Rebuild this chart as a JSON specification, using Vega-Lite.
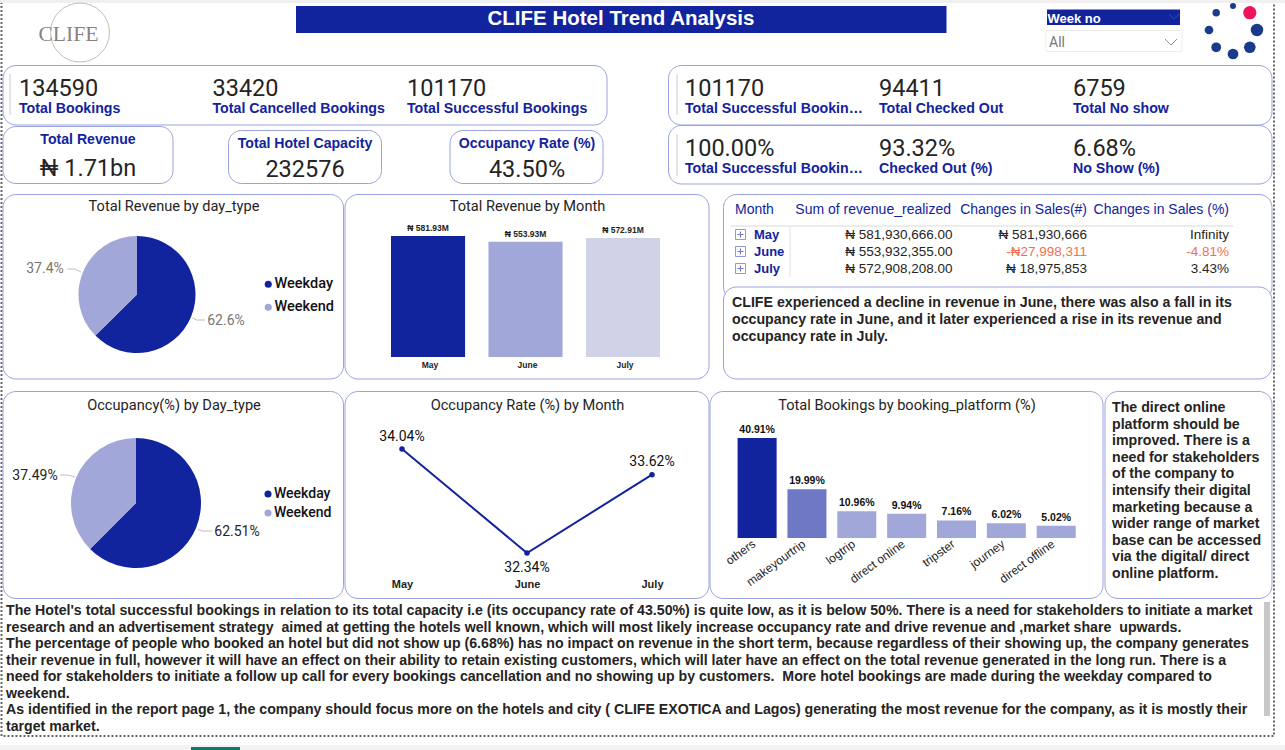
{
"$schema":"https://vega.github.io/schema/vega-lite/v6.json",
"width":1285,"height":750,"padding":0,
"autosize":{"type":"fit","contains":"padding"},
"background":"white",
"config":{"view":{"stroke":null},"text":{"font":"Liberation Sans","dy":1},"axis":{"grid":false}},
"datasets":{
"frame":[{"frame":1}],
"brand":[{"brand":"CLIFE","heading":"CLIFE Hotel Trend Analysis","slicer":"Week no","choice":"All"}],
"spinner":[
{"rank":8,"e":0.7,"n":0.72,"kind":"head"},{"rank":1,"e":0,"n":1,"kind":"tail"},{"rank":2,"e":-0.7,"n":0.72,"kind":"tail"},{"rank":3,"e":-1,"n":0,"kind":"tail"},{"rank":4,"e":-0.7,"n":-0.72,"kind":"tail"},{"rank":5,"e":0,"n":-1,"kind":"tail"},{"rank":6,"e":0.7,"n":-0.72,"kind":"tail"},{"rank":7,"e":1,"n":0,"kind":"tail"}],
"kpi":[
{"col":1,"row":1,"value":"134590","label":"Total Bookings"},
{"col":2,"row":1,"value":"33420","label":"Total Cancelled Bookings"},
{"col":3,"row":1,"value":"101170","label":"Total Successful Bookings"},
{"col":4,"row":1,"value":"101170","label":"Total Successful Bookin…"},
{"col":5,"row":1,"value":"94411","label":"Total Checked Out"},
{"col":6,"row":1,"value":"6759","label":"Total No show"},
{"col":4,"row":2,"value":"100.00%","label":"Total Successful Bookin…"},
{"col":5,"row":2,"value":"93.32%","label":"Checked Out (%)"},
{"col":6,"row":2,"value":"6.68%","label":"No Show (%)"}],
"center":[
{"col":1,"value":"₦ 1.71bn","label":"Total Revenue"},
{"col":2,"value":"232576","label":"Total Hotel Capacity"},
{"col":3,"value":"43.50%","label":"Occupancy Rate (%)"}],
"titles":[
{"col":1,"row":1,"title":"Total Revenue by day_type"},
{"col":2,"row":1,"title":"Total Revenue by Month"},
{"col":1,"row":2,"title":"Occupancy(%) by Day_type"},
{"col":2,"row":2,"title":"Occupancy Rate (%) by Month"},
{"col":3,"row":2,"title":"Total Bookings by booking_platform (%)"}],
"revenueDay":[{"day":"Weekday","share":62.6,"label":"62.6%"},{"day":"Weekend","share":37.4,"label":"37.4%"}],
"occupancyDay":[{"day":"Weekday","share":62.51,"label":"62.51%"},{"day":"Weekend","share":37.49,"label":"37.49%"}],
"revenueMonth":[{"month":"May","revenue":581.93,"label":"₦ 581.93M"},{"month":"June","revenue":553.93,"label":"₦ 553.93M"},{"month":"July","revenue":572.91,"label":"₦ 572.91M"}],
"occupancyMonth":[{"month":"May","rate":34.04,"label":"34.04%"},{"month":"June","rate":32.34,"label":"32.34%"},{"month":"July","rate":33.62,"label":"33.62%"}],
"platform":[
{"platform":"others","share":40.91,"label":"40.91%"},
{"platform":"makeyourtrip","share":19.99,"label":"19.99%"},
{"platform":"logtrip","share":10.96,"label":"10.96%"},
{"platform":"direct online","share":9.94,"label":"9.94%"},
{"platform":"tripster","share":7.16,"label":"7.16%"},
{"platform":"journey","share":6.02,"label":"6.02%"},
{"platform":"direct offline","share":5.02,"label":"5.02%"}],
"tableHead":[
{"col":0,"row":0,"text":"Month","kind":"left"},
{"col":4,"row":0,"text":"Sum of revenue_realized","kind":"right"},
{"col":5,"row":0,"text":"Changes in Sales(#)","kind":"right"},
{"col":6,"row":0,"text":"Changes in Sales (%)","kind":"right"}],
"tableMonths":[{"col":2,"row":1,"text":"May"},{"col":2,"row":2,"text":"June"},{"col":2,"row":3,"text":"July"}],
"tableCells":[
{"col":4,"row":1,"text":"₦ 581,930,666.00","tone":"flat"},
{"col":5,"row":1,"text":"₦ 581,930,666","tone":"flat"},
{"col":6,"row":1,"text":"Infinity","tone":"flat"},
{"col":4,"row":2,"text":"₦ 553,932,355.00","tone":"flat"},
{"col":5,"row":2,"text":"-₦27,998,311","tone":"down"},
{"col":6,"row":2,"text":"-4.81%","tone":"down"},
{"col":4,"row":3,"text":"₦ 572,908,208.00","tone":"flat"},
{"col":5,"row":3,"text":"₦ 18,975,853","tone":"flat"},
{"col":6,"row":3,"text":"3.43%","tone":"flat"}],
"noteRevenue":[
{"line":1,"text":"CLIFE experienced a decline in revenue in June, there was also a fall in its"},
{"line":2,"text":"occupancy rate in June, and it later experienced a rise in its revenue and"},
{"line":3,"text":"occupancy rate in July."}],
"notePlatform":[
{"line":1,"text":"The direct online"},{"line":2,"text":"platform should be"},{"line":3,"text":"improved. There is a"},{"line":4,"text":"need for stakeholders"},{"line":5,"text":"of the company to"},{"line":6,"text":"intensify their digital"},{"line":7,"text":"marketing because a"},{"line":8,"text":"wider range of market"},{"line":9,"text":"base can be accessed"},{"line":10,"text":"via the digital/ direct"},{"line":11,"text":"online platform."}],
"noteBottom":[
{"line":1,"text":"The Hotel's total successful bookings in relation to its total capacity i.e (its occupancy rate of 43.50%) is quite low, as it is below 50%. There is a need for stakeholders to initiate a market"},
{"line":2,"text":"research and an advertisement strategy \u00a0aimed at getting the hotels well known, which will most likely increase occupancy rate and drive revenue and ,market share \u00a0upwards."},
{"line":3,"text":"The percentage of people who booked an hotel but did not show up (6.68%) has no impact on revenue in the short term, because regardless of their showing up, the company generates"},
{"line":4,"text":"their revenue in full, however it will have an effect on their ability to retain existing customers, which will later have an effect on the total revenue generated in the long run. There is a"},
{"line":5,"text":"need for stakeholders to initiate a follow up call for every bookings cancellation and no showing up by customers. \u00a0More hotel bookings are made during the weekday compared to"},
{"line":6,"text":"weekend."},
{"line":7,"text":"As identified in the report page 1, the company should focus more on the hotels and city ( CLIFE EXOTICA and Lagos) generating the most revenue for the company, as it is mostly their"},
{"line":8,"text":"target market."}]
},
"resolve":{"scale":{"x":"independent","y":"independent","color":"independent","theta":"independent","shape":"independent","size":"independent"}},
"layer":[
{"data":{"name":"frame"},"mark":{"type":"rect","fill":"#f3f2f1"},"encoding":{"x":{"datum":0,"type":"quantitative","scale":{"domain":[0,1],"range":[0,1285]},"axis":null},"x2":{"datum":1},"y":{"datum":0,"type":"quantitative","scale":{"domain":[0,1],"range":[745,750]},"axis":null},"y2":{"datum":1}}},
{"data":{"name":"frame"},"mark":{"type":"rect","fill":"#117865"},"encoding":{"x":{"datum":0,"type":"quantitative","scale":{"domain":[0,1],"range":[191,240]},"axis":null},"x2":{"datum":1},"y":{"datum":0,"type":"quantitative","scale":{"domain":[0,1],"range":[747,750]},"axis":null},"y2":{"datum":1}}},
{"data":{"name":"frame"},"mark":{"type":"rect","fill":"transparent","stroke":"#666666","strokeWidth":2,"strokeDash":[2,2]},"encoding":{"x":{"datum":0,"type":"quantitative","scale":{"domain":[0,1],"range":[1.5,1274]},"axis":null},"x2":{"datum":1},"y":{"datum":0,"type":"quantitative","scale":{"domain":[0,1],"range":[1,736]},"axis":null},"y2":{"datum":1}}},
{"data":{"name":"frame"},"mark":{"type":"rect","fill":"#f0f0f0"},"encoding":{"x":{"datum":0,"type":"quantitative","scale":{"domain":[0,1],"range":[0,1285]},"axis":null},"x2":{"datum":1},"y":{"datum":0,"type":"quantitative","scale":{"domain":[0,1],"range":[0,3]},"axis":null},"y2":{"datum":1}}},

{"data":{"name":"brand"},"mark":{"type":"point","shape":"circle","filled":false,"stroke":"#a8a2a0","strokeWidth":1,"size":3481},"encoding":{"x":{"datum":0,"type":"quantitative","scale":{"domain":[0,1],"range":[80,81]},"axis":null},"y":{"datum":0,"type":"quantitative","scale":{"domain":[0,1],"range":[32.5,33]},"axis":null}}},
{"data":{"name":"brand"},"mark":{"type":"text","font":"Liberation Serif","fontSize":21.7,"fill":"#8a8280"},"encoding":{"text":{"field":"brand"},"x":{"datum":0,"type":"quantitative","scale":{"domain":[0,1],"range":[68.5,69]},"axis":null},"y":{"datum":0,"type":"quantitative","scale":{"domain":[0,1],"range":[32.5,33]},"axis":null}}},
{"data":{"name":"brand"},"mark":{"type":"rect","fill":"#12239e"},"encoding":{"x":{"datum":0,"type":"quantitative","scale":{"domain":[0,1],"range":[296,946.5]},"axis":null},"x2":{"datum":1},"y":{"datum":0,"type":"quantitative","scale":{"domain":[0,1],"range":[6,33]},"axis":null},"y2":{"datum":1}}},
{"data":{"name":"brand"},"mark":{"type":"text","fontSize":20.5,"fontWeight":"bold","fill":"white"},"encoding":{"text":{"field":"heading"},"x":{"datum":0,"type":"quantitative","scale":{"domain":[0,1],"range":[621,622]},"axis":null},"y":{"datum":0,"type":"quantitative","scale":{"domain":[0,1],"range":[18,19]},"axis":null}}},
{"data":{"name":"brand"},"mark":{"type":"rect","fill":"#12239e"},"encoding":{"x":{"datum":0,"type":"quantitative","scale":{"domain":[0,1],"range":[1047,1180]},"axis":null},"x2":{"datum":1},"y":{"datum":0,"type":"quantitative","scale":{"domain":[0,1],"range":[9.5,25]},"axis":null},"y2":{"datum":1}}},
{"data":{"name":"brand"},"mark":{"type":"text","align":"left","fontSize":13,"fontWeight":"bold","fill":"white"},"encoding":{"text":{"field":"slicer"},"x":{"datum":0,"type":"quantitative","scale":{"domain":[0,1],"range":[1047.5,1048]},"axis":null},"y":{"datum":0,"type":"quantitative","scale":{"domain":[0,1],"range":[17.5,18]},"axis":null}}},
{"data":{"name":"brand"},"mark":{"type":"rect","fill":"white","stroke":"#eeeeee"},"encoding":{"x":{"datum":0,"type":"quantitative","scale":{"domain":[0,1],"range":[1046,1182]},"axis":null},"x2":{"datum":1},"y":{"datum":0,"type":"quantitative","scale":{"domain":[0,1],"range":[30.5,51.5]},"axis":null},"y2":{"datum":1}}},
{"data":{"name":"brand"},"mark":{"type":"text","align":"left","fontSize":14,"fill":"#777777","font":"Roboto"},"encoding":{"text":{"field":"choice"},"x":{"datum":0,"type":"quantitative","scale":{"domain":[0,1],"range":[1049,1050]},"axis":null},"y":{"datum":0,"type":"quantitative","scale":{"domain":[0,1],"range":[41.5,42]},"axis":null}}},
{"data":{"name":"brand"},"mark":{"type":"point","shape":"M-1,-0.5L0,0.5L1,-0.5","filled":false,"stroke":"#666666","strokeWidth":1,"size":144},"encoding":{"x":{"datum":0,"type":"quantitative","scale":{"domain":[0,1],"range":[1171,1172]},"axis":null},"y":{"datum":0,"type":"quantitative","scale":{"domain":[0,1],"range":[42,43]},"axis":null}}},
{"data":{"name":"brand"},"mark":{"type":"point","shape":"M-1,-0.5L0,0.5L1,-0.5","filled":false,"stroke":"#4656b8","strokeWidth":1,"size":100},"encoding":{"x":{"datum":0,"type":"quantitative","scale":{"domain":[0,1],"range":[1174,1175]},"axis":null},"y":{"datum":0,"type":"quantitative","scale":{"domain":[0,1],"range":[16.5,17]},"axis":null}}},
{"data":{"name":"spinner"},"mark":{"type":"point","shape":"circle","filled":true,"opacity":1},"encoding":{
"x":{"field":"e","type":"quantitative","scale":{"domain":[-1,1],"range":[1209,1257]},"axis":null},
"y":{"field":"n","type":"quantitative","scale":{"domain":[-1,1],"range":[54,6]},"axis":null},
"size":{"field":"rank","type":"quantitative","scale":{"domain":[1,8],"range":[36,175]},"legend":null},
"color":{"field":"kind","type":"nominal","scale":{"domain":["head","tail"],"range":["#f0145a","#1a3a8c"]},"legend":null}}},

{"data":{"name":"frame"},"mark":{"type":"rect","cornerRadius":13,"fill":"transparent","stroke":"#9aa3de"},"encoding":{"x":{"datum":0,"type":"quantitative","scale":{"domain":[0,1],"range":[3,607]},"axis":null},"x2":{"datum":1},"y":{"datum":0,"type":"quantitative","scale":{"domain":[0,1],"range":[65.5,125]},"axis":null},"y2":{"datum":1}}},
{"data":{"name":"frame"},"mark":{"type":"rect","cornerRadius":13,"fill":"transparent","stroke":"#9aa3de"},"encoding":{"x":{"datum":0,"type":"quantitative","scale":{"domain":[0,1],"range":[3,173]},"axis":null},"x2":{"datum":1},"y":{"datum":0,"type":"quantitative","scale":{"domain":[0,1],"range":[126.5,183.5]},"axis":null},"y2":{"datum":1}}},
{"data":{"name":"frame"},"mark":{"type":"rect","cornerRadius":13,"fill":"transparent","stroke":"#9aa3de"},"encoding":{"x":{"datum":0,"type":"quantitative","scale":{"domain":[0,1],"range":[228.5,381.5]},"axis":null},"x2":{"datum":1},"y":{"datum":0,"type":"quantitative","scale":{"domain":[0,1],"range":[130.5,183.5]},"axis":null},"y2":{"datum":1}}},
{"data":{"name":"frame"},"mark":{"type":"rect","cornerRadius":13,"fill":"transparent","stroke":"#9aa3de"},"encoding":{"x":{"datum":0,"type":"quantitative","scale":{"domain":[0,1],"range":[450,603]},"axis":null},"x2":{"datum":1},"y":{"datum":0,"type":"quantitative","scale":{"domain":[0,1],"range":[130.5,183.5]},"axis":null},"y2":{"datum":1}}},
{"data":{"name":"frame"},"mark":{"type":"rect","cornerRadius":13,"fill":"transparent","stroke":"#9aa3de"},"encoding":{"x":{"datum":0,"type":"quantitative","scale":{"domain":[0,1],"range":[668.5,1272]},"axis":null},"x2":{"datum":1},"y":{"datum":0,"type":"quantitative","scale":{"domain":[0,1],"range":[65.5,125]},"axis":null},"y2":{"datum":1}}},
{"data":{"name":"frame"},"mark":{"type":"rect","cornerRadius":13,"fill":"transparent","stroke":"#9aa3de"},"encoding":{"x":{"datum":0,"type":"quantitative","scale":{"domain":[0,1],"range":[668.5,1272]},"axis":null},"x2":{"datum":1},"y":{"datum":0,"type":"quantitative","scale":{"domain":[0,1],"range":[125.5,184]},"axis":null},"y2":{"datum":1}}},
{"data":{"name":"frame"},"mark":{"type":"rect","cornerRadius":13,"fill":"transparent","stroke":"#9aa3de"},"encoding":{"x":{"datum":0,"type":"quantitative","scale":{"domain":[0,1],"range":[3,343.5]},"axis":null},"x2":{"datum":1},"y":{"datum":0,"type":"quantitative","scale":{"domain":[0,1],"range":[194.5,379]},"axis":null},"y2":{"datum":1}}},
{"data":{"name":"frame"},"mark":{"type":"rect","cornerRadius":13,"fill":"transparent","stroke":"#9aa3de"},"encoding":{"x":{"datum":0,"type":"quantitative","scale":{"domain":[0,1],"range":[345,709]},"axis":null},"x2":{"datum":1},"y":{"datum":0,"type":"quantitative","scale":{"domain":[0,1],"range":[194.5,379]},"axis":null},"y2":{"datum":1}}},
{"data":{"name":"frame"},"mark":{"type":"rect","cornerRadius":13,"fill":"transparent","stroke":"#9aa3de"},"encoding":{"x":{"datum":0,"type":"quantitative","scale":{"domain":[0,1],"range":[723.5,1272]},"axis":null},"x2":{"datum":1},"y":{"datum":0,"type":"quantitative","scale":{"domain":[0,1],"range":[194.5,300]},"axis":null},"y2":{"datum":1}}},
{"data":{"name":"frame"},"mark":{"type":"rect","cornerRadius":13,"fill":"white","stroke":"#9aa3de"},"encoding":{"x":{"datum":0,"type":"quantitative","scale":{"domain":[0,1],"range":[723.5,1272]},"axis":null},"x2":{"datum":1},"y":{"datum":0,"type":"quantitative","scale":{"domain":[0,1],"range":[287,379]},"axis":null},"y2":{"datum":1}}},
{"data":{"name":"frame"},"mark":{"type":"rect","cornerRadius":13,"fill":"transparent","stroke":"#9aa3de"},"encoding":{"x":{"datum":0,"type":"quantitative","scale":{"domain":[0,1],"range":[3,343.5]},"axis":null},"x2":{"datum":1},"y":{"datum":0,"type":"quantitative","scale":{"domain":[0,1],"range":[391.5,598.5]},"axis":null},"y2":{"datum":1}}},
{"data":{"name":"frame"},"mark":{"type":"rect","cornerRadius":13,"fill":"transparent","stroke":"#9aa3de"},"encoding":{"x":{"datum":0,"type":"quantitative","scale":{"domain":[0,1],"range":[345,709]},"axis":null},"x2":{"datum":1},"y":{"datum":0,"type":"quantitative","scale":{"domain":[0,1],"range":[391.5,598.5]},"axis":null},"y2":{"datum":1}}},
{"data":{"name":"frame"},"mark":{"type":"rect","cornerRadius":13,"fill":"transparent","stroke":"#9aa3de"},"encoding":{"x":{"datum":0,"type":"quantitative","scale":{"domain":[0,1],"range":[710,1103]},"axis":null},"x2":{"datum":1},"y":{"datum":0,"type":"quantitative","scale":{"domain":[0,1],"range":[391.5,598.5]},"axis":null},"y2":{"datum":1}}},
{"data":{"name":"frame"},"mark":{"type":"rect","cornerRadius":13,"fill":"transparent","stroke":"#9aa3de"},"encoding":{"x":{"datum":0,"type":"quantitative","scale":{"domain":[0,1],"range":[1105,1272]},"axis":null},"x2":{"datum":1},"y":{"datum":0,"type":"quantitative","scale":{"domain":[0,1],"range":[391.5,598.5]},"axis":null},"y2":{"datum":1}}},

{"data":{"name":"frame"},"mark":{"type":"rule","stroke":"#cccccc","strokeWidth":1},"encoding":{"x":{"datum":0,"type":"quantitative","scale":{"domain":[0,1],"range":[10,11]},"axis":null},"y":{"datum":0,"type":"quantitative","scale":{"domain":[0,1],"range":[74,115]},"axis":null},"y2":{"datum":1}}},
{"data":{"name":"frame"},"mark":{"type":"rule","stroke":"#cccccc","strokeWidth":1},"encoding":{"x":{"datum":0,"type":"quantitative","scale":{"domain":[0,1],"range":[677,678]},"axis":null},"y":{"datum":0,"type":"quantitative","scale":{"domain":[0,1],"range":[74,115]},"axis":null},"y2":{"datum":1}}},
{"data":{"name":"frame"},"mark":{"type":"rule","stroke":"#cccccc","strokeWidth":1},"encoding":{"x":{"datum":0,"type":"quantitative","scale":{"domain":[0,1],"range":[677,678]},"axis":null},"y":{"datum":0,"type":"quantitative","scale":{"domain":[0,1],"range":[134,176]},"axis":null},"y2":{"datum":1}}},

{"data":{"name":"kpi"},"mark":{"type":"text","align":"left","font":"Roboto","fontSize":23.5,"fill":"#252423"},"encoding":{"text":{"field":"value"},
"x":{"field":"col","type":"quantitative","scale":{"domain":[1,2,3,4,5,6],"range":[19,212.5,407,685,879,1073]},"axis":null},
"y":{"field":"row","type":"quantitative","scale":{"domain":[1,2],"range":[88,148]},"axis":null}}},
{"data":{"name":"kpi"},"mark":{"type":"text","align":"left","fontSize":14.2,"fontWeight":"bold","fill":"#12239e"},"encoding":{"text":{"field":"label"},
"x":{"field":"col","type":"quantitative","scale":{"domain":[1,2,3,4,5,6],"range":[19,212.5,407,685,879,1073]},"axis":null},
"y":{"field":"row","type":"quantitative","scale":{"domain":[1,2],"range":[108,168]},"axis":null}}},
{"data":{"name":"center"},"mark":{"type":"text","font":"Roboto","fontSize":23.5,"fill":"#252423"},"encoding":{"text":{"field":"value"},
"x":{"field":"col","type":"quantitative","scale":{"domain":[1,2,3],"range":[88,305,527]},"axis":null},
"y":{"field":"col","type":"quantitative","scale":{"domain":[1,2,3],"range":[168,169,169]},"axis":null}}},
{"data":{"name":"center"},"mark":{"type":"text","fontSize":14.1,"fontWeight":"bold","fill":"#12239e"},"encoding":{"text":{"field":"label"},
"x":{"field":"col","type":"quantitative","scale":{"domain":[1,2,3],"range":[88,305,527]},"axis":null},
"y":{"field":"col","type":"quantitative","scale":{"domain":[1,2,3],"range":[139,143,143]},"axis":null}}},
{"data":{"name":"titles"},"mark":{"type":"text","fontSize":14.6,"font":"Roboto","fill":"#252423"},"encoding":{"text":{"field":"title"},
"x":{"field":"col","type":"quantitative","scale":{"domain":[1,2,3],"range":[174,527.5,907]},"axis":null},
"y":{"field":"row","type":"quantitative","scale":{"domain":[1,2],"range":[206,405]},"axis":null}}},

{"data":{"name":"revenueDay"},"encoding":{
"x":{"datum":0,"type":"quantitative","scale":{"domain":[0,1],"range":[137,138]},"axis":null},
"y":{"datum":0,"type":"quantitative","scale":{"domain":[0,1],"range":[294.5,295]},"axis":null}},
"layer":[{"mark":{"type":"arc","outerRadius":58.5},"encoding":{
"theta":{"field":"share","type":"quantitative","stack":true,"scale":{"domain":[0,100]}},
"color":{"field":"day","type":"nominal","scale":{"domain":["Weekday","Weekend"],"range":["#12239e","#a1a8d9"]},
"legend":{"orient":"none","legendX":261,"legendY":277,"title":null,"symbolType":"circle","symbolSize":50,"labelFont":"Roboto","labelFontSize":14.5,"labelFontWeight":500,"labelColor":"#111111","rowPadding":8,"labelOffset":-1}}}}]},
{"data":{"name":"occupancyDay"},"encoding":{
"x":{"datum":0,"type":"quantitative","scale":{"domain":[0,1],"range":[136,137]},"axis":null},
"y":{"datum":0,"type":"quantitative","scale":{"domain":[0,1],"range":[503,504]},"axis":null}},
"layer":[{"mark":{"type":"arc","outerRadius":65},"encoding":{
"theta":{"field":"share","type":"quantitative","stack":true,"scale":{"domain":[0,100]}},
"color":{"field":"day","type":"nominal","scale":{"domain":["Weekday","Weekend"],"range":["#12239e","#a1a8d9"]},
"legend":{"orient":"none","legendX":261,"legendY":487,"title":null,"symbolType":"circle","symbolSize":50,"labelFont":"Roboto","labelFontSize":14,"labelFontWeight":500,"labelColor":"#111111","rowPadding":5,"labelOffset":-1}}}}]},
{"data":{"name":"revenueDay"},"mark":{"type":"text","font":"Roboto","fontSize":14,"fill":"#7a7672"},"encoding":{"text":{"field":"label"},
"x":{"field":"share","type":"quantitative","scale":{"domain":[37.4,62.6],"range":[45,226]},"axis":null},
"y":{"field":"share","type":"quantitative","scale":{"domain":[37.4,62.6],"range":[268,320]},"axis":null}}},
{"data":{"name":"occupancyDay"},"mark":{"type":"text","font":"Roboto","fontSize":14,"fill":"#252423"},"encoding":{"text":{"field":"label"},
"x":{"field":"share","type":"quantitative","scale":{"domain":[37.49,62.51],"range":[35,237]},"axis":null},
"y":{"field":"share","type":"quantitative","scale":{"domain":[37.49,62.51],"range":[475,531]},"axis":null}}},
{"data":{"name":"revenueDay"},"mark":{"type":"point","filled":false,"strokeWidth":1,"size":4,"opacity":1,"stroke":"#bdbdbd"},"encoding":{
"x":{"field":"share","type":"quantitative","scale":{"domain":[37.4,62.6],"range":[74.5,198.5]},"axis":null},
"y":{"field":"share","type":"quantitative","scale":{"domain":[37.4,62.6],"range":[270.5,319.5]},"axis":null},
"shape":{"field":"day","type":"nominal","scale":{"domain":["Weekday","Weekend"],"range":["M-6,-1.5L-2,0.5H6.5","M-7,-1.5H0L6.5,1.5"]},"legend":null}}},
{"data":{"name":"occupancyDay"},"mark":{"type":"point","filled":false,"strokeWidth":1,"size":4,"opacity":1,"stroke":"#bdbdbd"},"encoding":{
"x":{"field":"share","type":"quantitative","scale":{"domain":[37.49,62.51],"range":[67.5,205]},"axis":null},
"y":{"field":"share","type":"quantitative","scale":{"domain":[37.49,62.51],"range":[476,530]},"axis":null},
"shape":{"field":"day","type":"nominal","scale":{"domain":["Weekday","Weekend"],"range":["M-7,-1L-3,1H7","M-7.5,-1H0L7.5,1"]},"legend":null}}},

{"data":{"name":"revenueMonth"},"encoding":{
"x":{"field":"month","type":"nominal","sort":["May","June","July"],"scale":{"range":[391,660],"paddingInner":0.24,"paddingOuter":0},
"axis":{"orient":"bottom","offset":-390,"title":null,"ticks":false,"domain":false,"labelPadding":0,"labelAngle":0,"labelOffset":2,"labelFont":"Liberation Sans","labelFontSize":8.5,"labelFontWeight":"bold","labelColor":"#252423"}},
"y":{"field":"revenue","type":"quantitative","scale":{"domain":[0,581.93],"range":[357,236]},"axis":null}},
"layer":[
{"mark":{"type":"bar"},"encoding":{"color":{"field":"month","type":"nominal","scale":{"domain":["May","June","July"],"range":["#12239e","#a1a8d9","#d0d3e8"]},"legend":null}}},
{"mark":{"type":"text","baseline":"bottom","dy":-3,"fontSize":8.5,"fontWeight":"bold","fill":"#252423"},"encoding":{"text":{"field":"label"}}}]},

{"data":{"name":"occupancyMonth"},"encoding":{
"x":{"field":"month","type":"nominal","sort":["May","June","July"],"scale":{"type":"point","range":[402,652],"padding":0},
"axis":{"orient":"bottom","offset":-172,"title":null,"ticks":false,"domain":false,"labelPadding":0,"labelAngle":0,"labelFont":"Liberation Sans","labelFontSize":11,"labelFontWeight":"bold","labelColor":"#252423"}},
"y":{"field":"rate","type":"quantitative","scale":{"domain":[32.34,34.04],"range":[553,449]},"axis":null}},
"layer":[
{"mark":{"type":"line","color":"#12239e","strokeWidth":2}},
{"mark":{"type":"point","filled":true,"size":30,"opacity":1,"color":"#12239e"}}]},
{"data":{"name":"occupancyMonth"},"mark":{"type":"text","font":"Roboto","fontSize":14,"fill":"#111111"},"encoding":{"text":{"field":"label"},
"x":{"field":"month","type":"nominal","sort":["May","June","July"],"scale":{"type":"point","range":[402,652],"padding":0},"axis":null},
"y":{"field":"rate","type":"quantitative","scale":{"domain":[32.34,33.62,34.04],"range":[567,461,436]},"axis":null}}},

{"data":{"name":"platform"},"encoding":{
"x":{"field":"platform","type":"nominal","sort":null,"scale":{"range":[737.6,1075.7],"paddingInner":0.217,"paddingOuter":0},
"axis":{"orient":"bottom","offset":-212,"title":null,"ticks":false,"domain":false,"labelPadding":4,"labelAngle":-36,"labelAlign":"right","labelBaseline":"middle","labelOffset":-3,"labelFont":"Liberation Sans","labelFontSize":12,"labelColor":"#252423","labelOverlap":false}},
"y":{"field":"share","type":"quantitative","scale":{"domain":[0,40.91],"range":[538,438]},"axis":null}},
"layer":[
{"mark":{"type":"bar"},"encoding":{"color":{"field":"platform","type":"nominal","sort":null,"scale":{"domain":["others","makeyourtrip","logtrip","direct online","tripster","journey","direct offline"],"range":["#12239e","#6f78c4","#a1a8d9","#a1a8d9","#a1a8d9","#a1a8d9","#a1a8d9"]},"legend":null}}},
{"mark":{"type":"text","baseline":"bottom","dy":-3,"fontSize":10.5,"fontWeight":"bold","fill":"#111111"},"encoding":{"text":{"field":"label"}}}]},

{"data":{"name":"frame"},"mark":{"type":"rule","stroke":"#d9d9d9","strokeWidth":1},"encoding":{"x":{"datum":0,"type":"quantitative","scale":{"domain":[0,1],"range":[731,1233]},"axis":null},"x2":{"datum":1},"y":{"datum":0,"type":"quantitative","scale":{"domain":[0,1],"range":[226,227]},"axis":null}}},
{"data":{"name":"frame"},"mark":{"type":"rule","stroke":"#e3e3e3","strokeWidth":1},"encoding":{"x":{"datum":0,"type":"quantitative","scale":{"domain":[0,1],"range":[790,791]},"axis":null},"y":{"datum":0,"type":"quantitative","scale":{"domain":[0,1],"range":[226,277]},"axis":null},"y2":{"datum":1}}},
{"data":{"name":"tableHead"},"transform":[{"filter":"datum.kind==='left'"}],"mark":{"type":"text","align":"left","fontSize":14,"fill":"#12239e"},"encoding":{"text":{"field":"text"},
"x":{"field":"col","type":"quantitative","scale":{"domain":[0,1],"range":[735,736]},"axis":null},
"y":{"field":"row","type":"quantitative","scale":{"domain":[0,1],"range":[209,210]},"axis":null}}},
{"data":{"name":"tableHead"},"transform":[{"filter":"datum.kind==='right'"}],"mark":{"type":"text","align":"right","fontSize":14,"fill":"#12239e"},"encoding":{"text":{"field":"text"},
"x":{"field":"col","type":"quantitative","scale":{"domain":[4,5,6],"range":[951,1087,1229]},"axis":null},
"y":{"field":"row","type":"quantitative","scale":{"domain":[0,1],"range":[209,210]},"axis":null}}},
{"data":{"name":"tableMonths"},"mark":{"type":"point","shape":"square","filled":false,"size":100,"stroke":"#8f98d8","strokeWidth":1,"opacity":1},"encoding":{
"x":{"datum":0,"type":"quantitative","scale":{"domain":[0,1],"range":[740.5,741]},"axis":null},
"y":{"field":"row","type":"quantitative","scale":{"domain":[1,3],"range":[234.5,268.5]},"axis":null}}},
{"data":{"name":"tableMonths"},"mark":{"type":"point","shape":"M-0.6,0H0.6M0,-0.6V0.6","filled":false,"size":100,"stroke":"#6f78c4","strokeWidth":1,"opacity":1},"encoding":{
"x":{"datum":0,"type":"quantitative","scale":{"domain":[0,1],"range":[740.5,741]},"axis":null},
"y":{"field":"row","type":"quantitative","scale":{"domain":[1,3],"range":[234.5,268.5]},"axis":null}}},
{"data":{"name":"tableMonths"},"mark":{"type":"text","align":"left","fontSize":13,"fontWeight":"bold","fill":"#12239e"},"encoding":{"text":{"field":"text"},
"x":{"datum":0,"type":"quantitative","scale":{"domain":[0,1],"range":[754,755]},"axis":null},
"y":{"field":"row","type":"quantitative","scale":{"domain":[1,3],"range":[234,268]},"axis":null}}},
{"data":{"name":"tableCells"},"mark":{"type":"text","align":"right","fontSize":13.5},"encoding":{"text":{"field":"text"},
"x":{"field":"col","type":"quantitative","scale":{"domain":[4,5,6],"range":[952.5,1087,1229]},"axis":null},
"y":{"field":"row","type":"quantitative","scale":{"domain":[1,3],"range":[234,268]},"axis":null},
"color":{"field":"tone","type":"nominal","scale":{"domain":["flat","down"],"range":["#252423","#f2704d"]},"legend":null}}},

{"data":{"name":"noteRevenue"},"mark":{"type":"text","align":"left","fontSize":14.2,"fontWeight":"bold","fill":"#252423"},"encoding":{"text":{"field":"text"},
"x":{"datum":0,"type":"quantitative","scale":{"domain":[0,1],"range":[732,733]},"axis":null},
"y":{"field":"line","type":"quantitative","scale":{"domain":[1,3],"range":[302,336]},"axis":null}}},
{"data":{"name":"notePlatform"},"mark":{"type":"text","align":"left","fontSize":14.2,"fontWeight":"bold","fill":"#252423"},"encoding":{"text":{"field":"text"},
"x":{"datum":0,"type":"quantitative","scale":{"domain":[0,1],"range":[1112,1113]},"axis":null},
"y":{"field":"line","type":"quantitative","scale":{"domain":[1,11],"range":[407,573]},"axis":null}}},
{"data":{"name":"noteBottom"},"mark":{"type":"text","align":"left","fontSize":14.17,"fontWeight":"bold","fill":"#252423"},"encoding":{"text":{"field":"text"},
"x":{"datum":0,"type":"quantitative","scale":{"domain":[0,1],"range":[6,7]},"axis":null},
"y":{"field":"line","type":"quantitative","scale":{"domain":[1,8],"range":[610,726]},"axis":null}}},
{"data":{"name":"frame"},"mark":{"type":"rect","fill":"#c8c8c8"},"encoding":{"x":{"datum":0,"type":"quantitative","scale":{"domain":[0,1],"range":[1264,1270]},"axis":null},"x2":{"datum":1},"y":{"datum":0,"type":"quantitative","scale":{"domain":[0,1],"range":[602,716]},"axis":null},"y2":{"datum":1}}}
]
}
